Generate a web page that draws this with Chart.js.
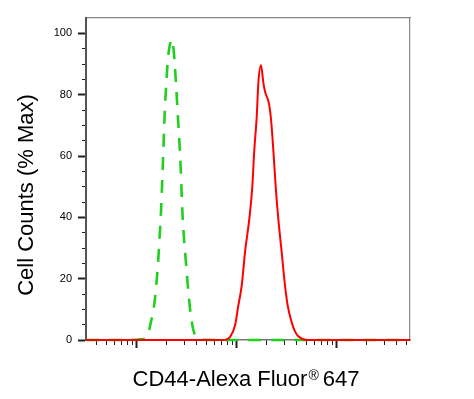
<!DOCTYPE html>
<html>
<head>
<meta charset="utf-8">
<script src="https://cdn.jsdelivr.net/npm/chart.js@4/dist/chart.umd.min.js"></script>
<style>
html,body{margin:0;padding:0;background:#fff;}
#wrap{width:474px;height:399px;position:relative;}
</style>
</head>
<body>
<div id="wrap"><canvas id="c" width="474" height="399"></canvas></div>
<script>
// ---- text ----
const xTitleMain = 'CD44-Alexa Fluor';
const xTitleMark = '®';
const xTitleEnd = '647';
const yTitle = 'Cell Counts (% Max)';

// ---- axes ----
const xMin = 31.1, xMax = 54080;
const yMin = 0, yMax = 105;
const xMajorTicks = [100, 1000, 10000];
const xMinorTicks = [40, 50, 60, 70, 80, 90,
  200, 300, 400, 500, 600, 700, 800, 900,
  2000, 3000, 4000, 5000, 6000, 7000, 8000, 9000,
  20000, 30000, 40000, 50000];
const yMajorTicks = [0, 20, 40, 60, 80, 100];
const yMinorTicks = [5, 10, 15, 25, 30, 35, 45, 50, 55, 65, 70, 75, 85, 90, 95];

// ---- series: isotype control (green dashed) ----
const controlX = [31.1, 68.1, 100.7, 115.6, 126.8, 139.0, 148.9, 156.0, 163.3, 169.0, 175.0, 179.1, 182.0, 190.5, 198.6, 205.6, 215.3, 223.9,
  232.3, 238.8, 257.0, 275.4, 280.5, 287.1, 297.2, 311.1, 325.8, 340.4, 354.8, 374.1, 400.9, 438.5, 1000, 10000, 54080];
const controlY = [0, 0, 0.1, 0.3, 1, 6, 11, 17, 25, 33, 42, 50, 56, 74, 85, 92, 96.5, 98,
  95.5, 91, 74, 56, 49, 41, 33, 25, 17, 10.5, 6, 2.5, 0.8, 0.1, 0, 0, 0];

// ---- series: CD44 stained (red) ----
const cd44X = [31.1, 500, 734.5, 794.3, 851.1, 961.6, 1037.5, 1122, 1210.6, 1336.5, 1428.9, 1499.7, 1584.9, 1644.4, 1749.8,
  1845, 1919, 2104, 2203, 2323, 2460, 2606, 2818, 3041, 3236, 3548, 3828, 4130, 5012, 10000, 54080];
const cd44Y = [0, 0, 0, 0.2, 0.85, 4.7, 11.2, 17.7, 28.6, 39.5, 49.5, 62, 72.7, 83.7, 89.6,
  84, 81, 77, 72, 62, 49.5, 39.5, 28.6, 17.7, 11.2, 5.75, 2.8, 1.2, 0, 0, 0];

const toPoints = (xs, ys) => xs.map((x, i) => ({x: x, y: ys[i]}));

const FONT = '"Liberation Sans", Arial, Helvetica, sans-serif';
const axisDark = '#222';

const titlePlugin = {
  id: 'titles',
  afterDraw(chart) {
    const ctx = chart.ctx;
    ctx.save();
    ctx.fillStyle = '#000';
    ctx.textBaseline = 'alphabetic';
    ctx.textAlign = 'left';
    // x title with superscript mark
    ctx.font = '22px ' + FONT;
    const w1 = ctx.measureText(xTitleMain).width;
    const w3 = ctx.measureText(xTitleEnd).width;
    ctx.font = '14px ' + FONT;
    const w2 = ctx.measureText(xTitleMark).width;
    const gap = 4;
    const total = w1 + 1 + w2 + gap + w3;
    let x = 246 - total / 2;
    const base = 386;
    ctx.font = '22px ' + FONT;
    ctx.fillText(xTitleMain, x, base);
    x += w1 + 1;
    ctx.font = '14px ' + FONT;
    ctx.fillText(xTitleMark, x, base - 6.5);
    x += w2 + gap;
    ctx.font = '22px ' + FONT;
    ctx.fillText(xTitleEnd, x, base);
    // y title
    ctx.translate(33, 195);
    ctx.rotate(-Math.PI / 2);
    ctx.textAlign = 'center';
    ctx.font = '22px ' + FONT;
    ctx.fillText(yTitle, 0, 0);
    ctx.restore();
  }
};

const setTicks = (vals) => (scale) => { scale.ticks = vals.map(v => ({value: v})); };

new Chart(document.getElementById('c'), {
  type: 'line',
  data: {
    datasets: [
      {
        label: 'Isotype',
        data: toPoints(controlX, controlY),
        borderColor: '#1fd01f',
        borderWidth: 2.6,
        borderDash: [13, 10],
        pointRadius: 0,
        cubicInterpolationMode: 'monotone',
        fill: false,
        clip: false,
        order: 2
      },
      {
        label: 'CD44',
        data: toPoints(cd44X, cd44Y),
        borderColor: '#ff0000',
        borderWidth: 2,
        pointRadius: 0,
        cubicInterpolationMode: 'monotone',
        fill: false,
        clip: false,
        order: 1
      }
    ]
  },
  plugins: [titlePlugin],
  options: {
    responsive: false,
    animation: false,
    devicePixelRatio: 1,
    layout: {padding: {top: 18, right: 64, left: 0, bottom: 0}},
    plugins: {legend: {display: false}, tooltip: {enabled: false}},
    scales: {
      x: {
        type: 'logarithmic', position: 'bottom', min: xMin, max: xMax, weight: 1,
        afterBuildTicks: setTicks(xMajorTicks),
        afterFit: (s) => { s.height = 59; },
        ticks: {display: false},
        grid: {drawOnChartArea: false, drawTicks: true, tickLength: 8, tickWidth: 2, tickColor: axisDark},
        border: {display: true, color: '#777', width: 1.5}
      },
      xMinor: {
        type: 'logarithmic', position: 'bottom', min: xMin, max: xMax, weight: 0, display: true,
        afterBuildTicks: setTicks(xMinorTicks),
        afterFit: (s) => { s.height = 0; },
        ticks: {display: false},
        grid: {drawOnChartArea: false, drawTicks: true, tickLength: 5, tickWidth: 1, tickColor: axisDark},
        border: {display: false}
      },
      xTop: {
        type: 'linear', position: 'top', min: 0, max: 1, display: true,
        afterFit: (s) => { s.height = 0; },
        ticks: {display: false},
        grid: {display: false, drawTicks: false},
        border: {display: true, color: '#888', width: 1.2}
      },
      y: {
        type: 'linear', position: 'left', min: yMin, max: yMax, weight: 1,
        afterBuildTicks: setTicks(yMajorTicks),
        afterFit: (s) => { s.width = 86; },
        ticks: {display: true, padding: 6, color: '#000', font: {family: FONT, size: 11}},
        grid: {drawOnChartArea: false, drawTicks: true, tickLength: 8, tickWidth: 2, tickColor: axisDark},
        border: {display: true, color: '#555', width: 2}
      },
      yMinor: {
        type: 'linear', position: 'left', min: yMin, max: yMax, weight: 0, display: true,
        afterBuildTicks: setTicks(yMinorTicks),
        afterFit: (s) => { s.width = 0; },
        ticks: {display: false},
        grid: {drawOnChartArea: false, drawTicks: true, tickLength: 4, tickWidth: 1, tickColor: axisDark},
        border: {display: false}
      },
      yRight: {
        type: 'linear', position: 'right', min: 0, max: 1, display: true,
        afterFit: (s) => { s.width = 0; },
        ticks: {display: false},
        grid: {display: false, drawTicks: false},
        border: {display: true, color: '#888', width: 1.2}
      }
    }
  }
});
</script>
</body>
</html>
